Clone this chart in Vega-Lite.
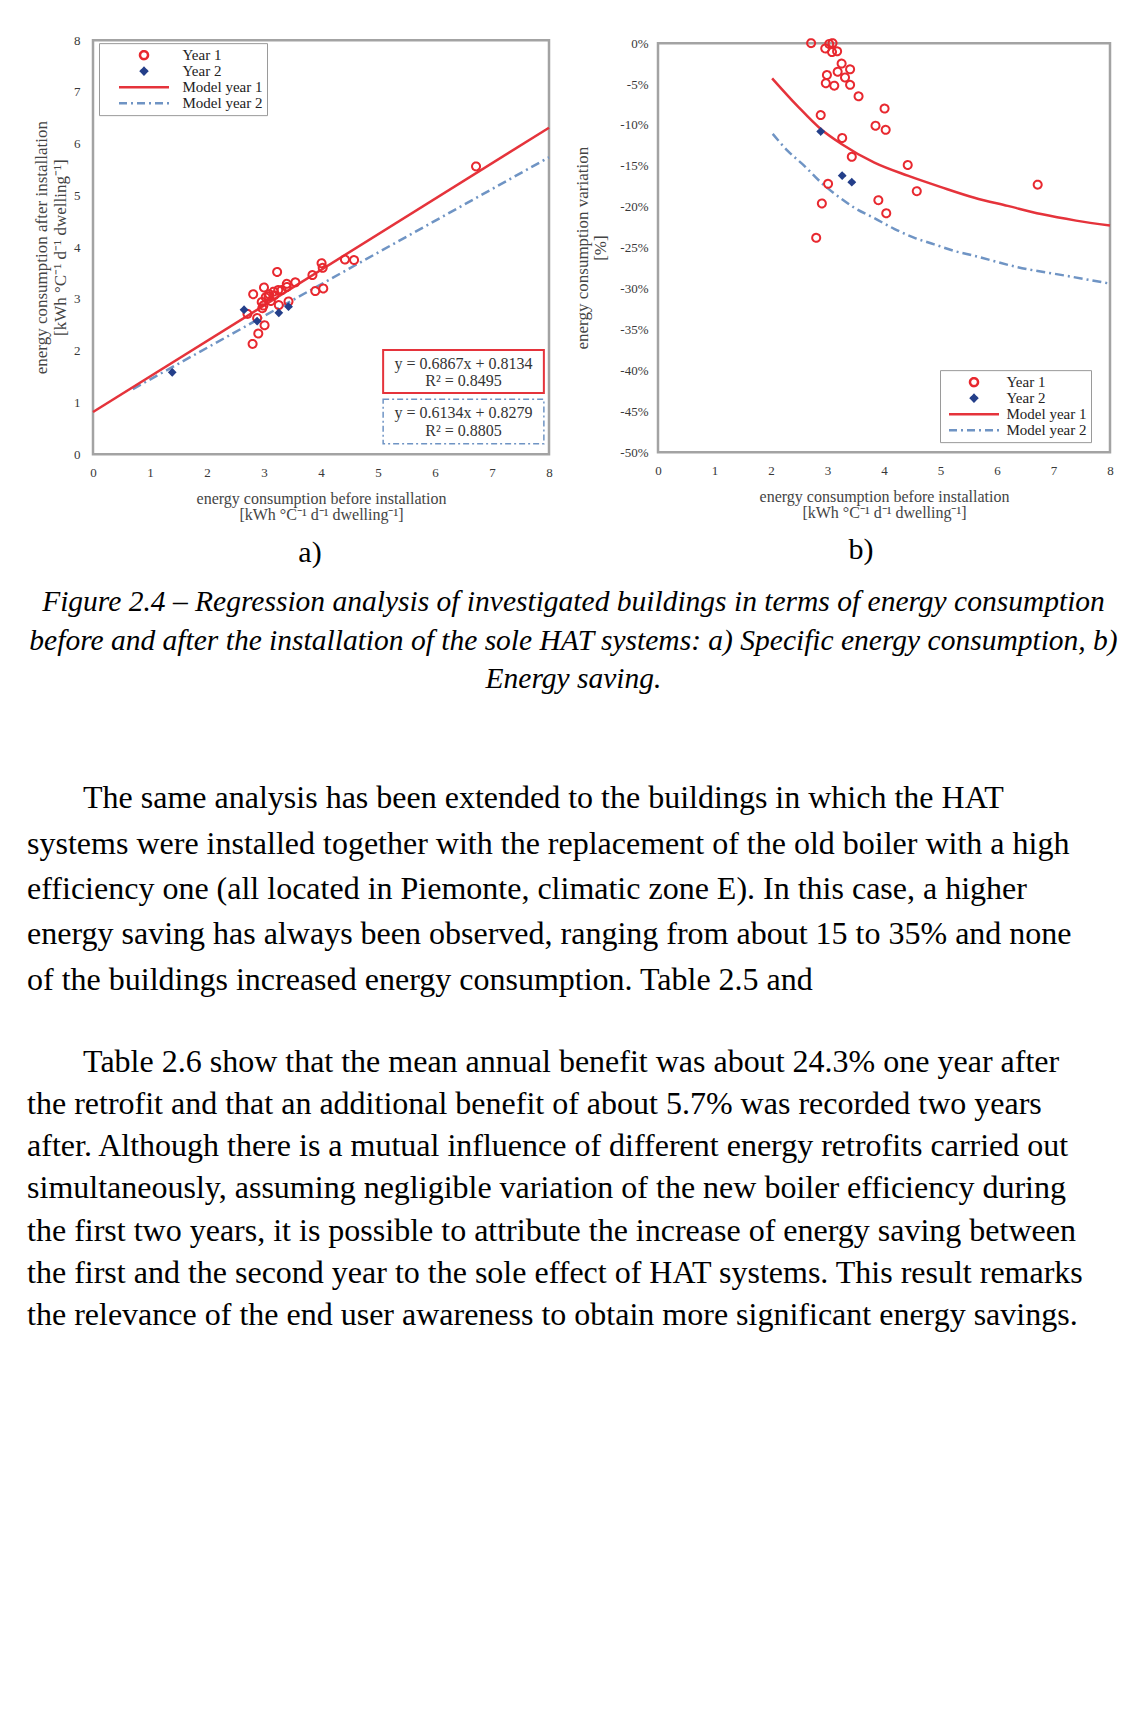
{
  "$schema": "https://vega.github.io/schema/vega-lite/v6.json",
  "background": "white",
  "padding": {"left": 27, "top": 32, "right": 0, "bottom": 10},
  "datasets": {
    "points": [
      {"series": "Year 1", "before": 2.71, "after": 2.71, "variation": 0.0},
      {"series": "Year 1", "before": 2.96, "after": 2.94, "variation": -0.65},
      {"series": "Year 1", "before": 3.03, "after": 3.03, "variation": -0.1},
      {"series": "Year 1", "before": 3.09, "after": 3.09, "variation": 0.0},
      {"series": "Year 1", "before": 3.08, "after": 3.05, "variation": -1.1},
      {"series": "Year 1", "before": 3.17, "after": 3.14, "variation": -1.0},
      {"series": "Year 1", "before": 3.25, "after": 3.17, "variation": -2.5},
      {"series": "Year 1", "before": 3.18, "after": 3.07, "variation": -3.5},
      {"series": "Year 1", "before": 3.40, "after": 3.29, "variation": -3.2},
      {"series": "Year 1", "before": 3.31, "after": 3.17, "variation": -4.2},
      {"series": "Year 1", "before": 2.99, "after": 2.87, "variation": -3.9},
      {"series": "Year 1", "before": 2.97, "after": 2.82, "variation": -4.9},
      {"series": "Year 1", "before": 3.12, "after": 2.96, "variation": -5.2},
      {"series": "Year 1", "before": 3.40, "after": 3.23, "variation": -5.1},
      {"series": "Year 1", "before": 3.55, "after": 3.32, "variation": -6.5},
      {"series": "Year 1", "before": 4.01, "after": 3.69, "variation": -8.0},
      {"series": "Year 1", "before": 2.88, "after": 2.63, "variation": -8.8},
      {"series": "Year 1", "before": 3.85, "after": 3.46, "variation": -10.1},
      {"series": "Year 1", "before": 4.03, "after": 3.60, "variation": -10.6},
      {"series": "Year 1", "before": 3.26, "after": 2.88, "variation": -11.6},
      {"series": "Year 1", "before": 3.43, "after": 2.95, "variation": -13.9},
      {"series": "Year 1", "before": 4.42, "after": 3.76, "variation": -14.9},
      {"series": "Year 1", "before": 3.01, "after": 2.49, "variation": -17.2},
      {"series": "Year 1", "before": 4.58, "after": 3.75, "variation": -18.1},
      {"series": "Year 1", "before": 6.72, "after": 5.56, "variation": -17.3},
      {"series": "Year 1", "before": 3.90, "after": 3.15, "variation": -19.2},
      {"series": "Year 1", "before": 2.90, "after": 2.33, "variation": -19.6},
      {"series": "Year 1", "before": 4.04, "after": 3.20, "variation": -20.8},
      {"series": "Year 1", "before": 2.80, "after": 2.13, "variation": -23.8},
      {"series": "Year 1", "before": 2.81, "after": 3.09, "variation": 10.0},
      {"series": "Year 1", "before": 3.00, "after": 3.22, "variation": 7.3},
      {"series": "Year 1", "before": 3.23, "after": 3.52, "variation": 9.0},
      {"series": "Year 2", "before": 1.39, "after": 1.58, "variation": 13.7},
      {"series": "Year 2", "before": 2.65, "after": 2.79, "variation": 5.3},
      {"series": "Year 2", "before": 2.88, "after": 2.57, "variation": -10.8},
      {"series": "Year 2", "before": 3.26, "after": 2.73, "variation": -16.2},
      {"series": "Year 2", "before": 3.43, "after": 2.85, "variation": -17.0}
    ],
    "lines": [
      {"model": "Model year 1", "before": 0, "after": 0.8134},
      {"model": "Model year 1", "before": 8, "after": 6.307},
      {"model": "Model year 2", "before": 0.7, "after": 1.257},
      {"model": "Model year 2", "before": 8, "after": 5.735}
    ],
    "curves": [
      {"model": "Model year 1", "before": 2.02, "variation": -4.3},
      {"model": "Model year 1", "before": 2.47, "variation": -7.7},
      {"model": "Model year 1", "before": 2.88, "variation": -10.5},
      {"model": "Model year 1", "before": 3.24, "variation": -12.3},
      {"model": "Model year 1", "before": 3.83, "variation": -14.6},
      {"model": "Model year 1", "before": 4.42, "variation": -16.2},
      {"model": "Model year 1", "before": 5.01, "variation": -17.6},
      {"model": "Model year 1", "before": 5.60, "variation": -18.9},
      {"model": "Model year 1", "before": 6.19, "variation": -19.9},
      {"model": "Model year 1", "before": 6.78, "variation": -20.9},
      {"model": "Model year 1", "before": 7.4, "variation": -21.7},
      {"model": "Model year 1", "before": 8.0, "variation": -22.3},
      {"model": "Model year 2", "before": 2.03, "variation": -11.1},
      {"model": "Model year 2", "before": 2.30, "variation": -13.2},
      {"model": "Model year 2", "before": 2.59, "variation": -15.0},
      {"model": "Model year 2", "before": 2.88, "variation": -17.0},
      {"model": "Model year 2", "before": 3.18, "variation": -18.7},
      {"model": "Model year 2", "before": 3.47, "variation": -20.1},
      {"model": "Model year 2", "before": 3.83, "variation": -21.4},
      {"model": "Model year 2", "before": 4.18, "variation": -22.7},
      {"model": "Model year 2", "before": 4.54, "variation": -23.8},
      {"model": "Model year 2", "before": 4.89, "variation": -24.6},
      {"model": "Model year 2", "before": 5.24, "variation": -25.4},
      {"model": "Model year 2", "before": 5.60, "variation": -26.0},
      {"model": "Model year 2", "before": 6.37, "variation": -27.4},
      {"model": "Model year 2", "before": 7.19, "variation": -28.4},
      {"model": "Model year 2", "before": 8.0, "variation": -29.4}
    ]
  },
  "config": {
    "view": {"stroke": "#a3a3a3", "strokeWidth": 2.5},
    "axis": {
      "domain": false, "ticks": false, "grid": false,
      "labelFont": "Liberation Serif", "labelFontSize": 13, "labelColor": "#383838",
      "titleFont": "Liberation Serif", "titleFontSize": 17, "titleFontWeight": "normal", "titleColor": "#444444",
      "labelFlush": false, "labelOverlap": false
    },
    "legend": {
      "labelFont": "Liberation Serif", "labelFontSize": 15, "labelColor": "#222222",
      "symbolSize": 2500, "symbolStrokeWidth": 2.5, "clipHeight": 16, "rowPadding": 0,
      "padding": 4, "strokeColor": "#9a9a9a", "fillColor": "white"
    },
    "title": {"font": "Liberation Serif", "fontWeight": "normal", "color": "black"}
  },
  "title": {
    "text": [
      "\u200b\u00a0\u00a0\u00a0\u00a0\u00a0\u00a0\u00a0The same analysis has been extended to the buildings in which the HAT",
      "systems were installed together with the replacement of the old boiler with a high",
      "efficiency one (all located in Piemonte, climatic zone E). In this case, a higher",
      "energy saving has always been observed, ranging from about 15 to 35% and none",
      "of the buildings increased energy consumption. Table 2.5 and"
    ],
    "subtitle": [
      "\u200b\u00a0\u00a0\u00a0\u00a0\u00a0\u00a0\u00a0Table 2.6 show that the mean annual benefit was about 24.3% one year after",
      "the retrofit and that an additional benefit of about 5.7% was recorded two years",
      "after. Although there is a mutual influence of different energy retrofits carried out",
      "simultaneously, assuming negligible variation of the new boiler efficiency during",
      "the first two years, it is possible to attribute the increase of energy saving between",
      "the first and the second year to the sole effect of HAT systems. This result remarks",
      "the relevance of the end user awareness to obtain more significant energy savings."
    ],
    "orient": "bottom", "anchor": "start", "offset": 89.5, "dx": -2,
    "font": "Liberation Serif", "fontSize": 32, "fontWeight": "normal", "color": "black", "lineHeight": 45.3,
    "subtitleFont": "Liberation Serif", "subtitleFontSize": 32, "subtitleColor": "black", "subtitleLineHeight": 42.3,
    "subtitlePadding": 50
  },
  "vconcat": [
    {
      "title": {
        "text": [
          "Figure 2.4 \u2013 Regression analysis of investigated buildings in terms of energy consumption",
          "before and after the installation of the sole HAT systems: a) Specific energy consumption, b)",
          "Energy saving."
        ],
        "orient": "bottom", "anchor": "middle", "offset": 19.5,
        "font": "Liberation Serif", "fontSize": 29.5, "fontStyle": "italic", "fontWeight": "normal", "color": "black", "lineHeight": 38.5
      },
      "spacing": 15,
      "center": true,
      "resolve": {"scale": {"color": "independent", "fill": "independent", "shape": "independent", "strokeDash": "independent"},
                  "legend": {"color": "independent", "fill": "independent", "shape": "independent", "strokeDash": "independent"}},
      "hconcat": [
        {
          "width": 456, "height": 414,
          "title": {"text": "a)", "orient": "bottom", "anchor": "middle", "frame": "group", "fontSize": 30, "offset": 15, "dx": -11, "font": "Liberation Serif", "fontWeight": "normal", "color": "black"},
          "layer": [
            {
              "data": {"name": "lines"},
              "transform": [{"filter": "datum.model === 'Model year 2'"}],
              "mark": {"type": "line", "color": "#6f94c4", "strokeWidth": 2.5, "strokeDash": [9, 4, 2, 4]},
              "encoding": {
                "x": {"field": "before", "type": "quantitative", "scale": {"domain": [0, 8], "nice": false},
                      "axis": {"values": [0, 1, 2, 3, 4, 5, 6, 7, 8], "format": "d", "labelPadding": 12, "titlePadding": 11, "titleLineHeight": 16.5, "titleFontSize": 16,
                               "title": ["energy consumption before installation", "[kWh \u00b0C\u207b\u00b9 d\u207b\u00b9 dwelling\u207b\u00b9]"]}},
                "y": {"field": "after", "type": "quantitative", "scale": {"domain": [0, 8], "nice": false},
                      "axis": {"values": [0, 1, 2, 3, 4, 5, 6, 7, 8], "format": "d", "labelPadding": 13, "minExtent": 20, "maxExtent": 20, "titlePadding": 4, "titleLineHeight": 19,
                               "title": ["energy consumption after installation", "[kWh \u00b0C\u207b\u00b9 d\u207b\u00b9 dwelling\u207b\u00b9]"]}}
              }
            },
            {
              "data": {"name": "lines"},
              "transform": [{"filter": "datum.model === 'Model year 1'"}],
              "mark": {"type": "line", "color": "#e5333b", "strokeWidth": 2.5},
              "encoding": {
                "x": {"field": "before", "type": "quantitative"},
                "y": {"field": "after", "type": "quantitative"}
              }
            },
            {
              "data": {"values": [{}]},
              "mark": {"type": "rect", "fill": "white", "stroke": "#e5333b", "strokeWidth": 2},
              "encoding": {"x": {"datum": 5.09}, "x2": {"datum": 7.91}, "y": {"datum": 2.01}, "y2": {"datum": 1.18}}
            },
            {
              "data": {"values": [{}]},
              "mark": {"type": "rect", "fill": "white", "stroke": "#6f94c4", "strokeWidth": 1.5, "strokeDash": [6, 3, 2, 3]},
              "encoding": {"x": {"datum": 5.09}, "x2": {"datum": 7.91}, "y": {"datum": 1.06}, "y2": {"datum": 0.2}}
            },
            {
              "data": {"values": [{}]},
              "mark": {"type": "text", "font": "Liberation Serif", "fontSize": 16, "color": "#333333"},
              "encoding": {"x": {"datum": 6.5}, "y": {"datum": 1.74}, "text": {"value": "y = 0.6867x + 0.8134"}}
            },
            {
              "data": {"values": [{}]},
              "mark": {"type": "text", "font": "Liberation Serif", "fontSize": 16, "color": "#333333"},
              "encoding": {"x": {"datum": 6.5}, "y": {"datum": 1.41}, "text": {"value": "R\u00b2 = 0.8495"}}
            },
            {
              "data": {"values": [{}]},
              "mark": {"type": "text", "font": "Liberation Serif", "fontSize": 16, "color": "#333333"},
              "encoding": {"x": {"datum": 6.5}, "y": {"datum": 0.79}, "text": {"value": "y = 0.6134x + 0.8279"}}
            },
            {
              "data": {"values": [{}]},
              "mark": {"type": "text", "font": "Liberation Serif", "fontSize": 16, "color": "#333333"},
              "encoding": {"x": {"datum": 6.5}, "y": {"datum": 0.45}, "text": {"value": "R\u00b2 = 0.8805"}}
            },
            {
              "data": {"name": "points"},
              "mark": {"type": "point", "filled": false, "size": 2500, "strokeWidth": 2, "opacity": 1},
              "encoding": {
                "x": {"field": "before", "type": "quantitative"},
                "y": {"field": "after", "type": "quantitative"},
                "color": {"field": "series", "type": "nominal", "title": null,
                          "scale": {"domain": ["Year 1", "Year 2", "Model year 1", "Model year 2"], "range": ["#e8282f", "#243f8a", "#e5333b", "#6f94c4"]},
                          "legend": {"orient": "none", "legendX": 6, "legendY": 3, "symbolOffset": 14.5, "labelOffset": 12, "title": null}},
                "fill": {"field": "series", "type": "nominal", "title": null,
                         "scale": {"domain": ["Year 1", "Year 2", "Model year 1", "Model year 2"], "range": ["transparent", "#243f8a", "transparent", "transparent"]},
                         "legend": {"orient": "none", "legendX": 6, "legendY": 3, "symbolOffset": 14.5, "labelOffset": 12, "title": null}},
                "shape": {"field": "series", "type": "nominal", "title": null,
                          "scale": {"domain": ["Year 1", "Year 2", "Model year 1", "Model year 2"],
                                    "range": ["M-0.16,0A0.16,0.16,0,1,1,0.16,0A0.16,0.16,0,1,1,-0.16,0Z", "M0,-0.12L0.12,0L0,0.12L-0.12,0Z", "M-1,0L1,0", "M-1,0L1,0"]},
                          "legend": {"orient": "none", "legendX": 6, "legendY": 3, "symbolOffset": 14.5, "labelOffset": 12, "title": null}},
                "strokeDash": {"field": "series", "type": "nominal", "title": null,
                               "scale": {"domain": ["Year 1", "Year 2", "Model year 1", "Model year 2"], "range": [[1, 0], [1, 0], [1, 0], [8, 4, 2, 4]]},
                               "legend": {"orient": "none", "legendX": 6, "legendY": 3, "symbolOffset": 14.5, "labelOffset": 12, "title": null}}
              }
            }
          ]
        },
        {
          "width": 452, "height": 409,
          "title": {"text": "b)", "orient": "bottom", "anchor": "middle", "frame": "group", "fontSize": 30, "offset": 14, "dx": -23, "font": "Liberation Serif", "fontWeight": "normal", "color": "black"},
          "layer": [
            {
              "data": {"name": "curves"},
              "transform": [{"filter": "datum.model === 'Model year 2'"}],
              "mark": {"type": "line", "color": "#6f94c4", "strokeWidth": 2.5, "strokeDash": [9, 4, 2, 4], "interpolate": "monotone"},
              "encoding": {
                "x": {"field": "before", "type": "quantitative", "scale": {"domain": [0, 8], "nice": false},
                      "axis": {"values": [0, 1, 2, 3, 4, 5, 6, 7, 8], "format": "d", "labelPadding": 12, "titlePadding": 11, "titleLineHeight": 16.5, "titleFontSize": 16,
                               "title": ["energy consumption before installation", "[kWh \u00b0C\u207b\u00b9 d\u207b\u00b9 dwelling\u207b\u00b9]"]}},
                "y": {"field": "variation", "type": "quantitative", "scale": {"domain": [-50, 0], "nice": false},
                      "axis": {"values": [-50, -45, -40, -35, -30, -25, -20, -15, -10, -5, 0], "labelExpr": "datum.value + '%'", "labelPadding": 10, "minExtent": 45, "maxExtent": 45, "titlePadding": 4, "titleLineHeight": 18,
                               "title": ["energy consumption variation", "[%]"]}}
              }
            },
            {
              "data": {"name": "curves"},
              "transform": [{"filter": "datum.model === 'Model year 1'"}],
              "mark": {"type": "line", "color": "#e5333b", "strokeWidth": 2.5, "interpolate": "monotone"},
              "encoding": {
                "x": {"field": "before", "type": "quantitative"},
                "y": {"field": "variation", "type": "quantitative"}
              }
            },
            {
              "data": {"name": "points"},
              "transform": [{"filter": "datum.variation <= 0"}],
              "mark": {"type": "point", "filled": false, "size": 2500, "strokeWidth": 2, "opacity": 1},
              "encoding": {
                "x": {"field": "before", "type": "quantitative"},
                "y": {"field": "variation", "type": "quantitative"},
                "color": {"field": "series", "type": "nominal", "title": null,
                          "scale": {"domain": ["Year 1", "Year 2", "Model year 1", "Model year 2"], "range": ["#e8282f", "#243f8a", "#e5333b", "#6f94c4"]},
                          "legend": {"orient": "none", "legendX": 282, "legendY": 327, "symbolOffset": 3.5, "labelOffset": 6, "title": null}},
                "fill": {"field": "series", "type": "nominal", "title": null,
                         "scale": {"domain": ["Year 1", "Year 2", "Model year 1", "Model year 2"], "range": ["transparent", "#243f8a", "transparent", "transparent"]},
                         "legend": {"orient": "none", "legendX": 282, "legendY": 327, "symbolOffset": 3.5, "labelOffset": 6, "title": null}},
                "shape": {"field": "series", "type": "nominal", "title": null,
                          "scale": {"domain": ["Year 1", "Year 2", "Model year 1", "Model year 2"],
                                    "range": ["M-0.16,0A0.16,0.16,0,1,1,0.16,0A0.16,0.16,0,1,1,-0.16,0Z", "M0,-0.12L0.12,0L0,0.12L-0.12,0Z", "M-1,0L1,0", "M-1,0L1,0"]},
                          "legend": {"orient": "none", "legendX": 282, "legendY": 327, "symbolOffset": 3.5, "labelOffset": 6, "title": null}},
                "strokeDash": {"field": "series", "type": "nominal", "title": null,
                               "scale": {"domain": ["Year 1", "Year 2", "Model year 1", "Model year 2"], "range": [[1, 0], [1, 0], [1, 0], [8, 4, 2, 4]]},
                               "legend": {"orient": "none", "legendX": 282, "legendY": 327, "symbolOffset": 3.5, "labelOffset": 6, "title": null}}
              }
            }
          ]
        }
      ]
    }
  ]
}
